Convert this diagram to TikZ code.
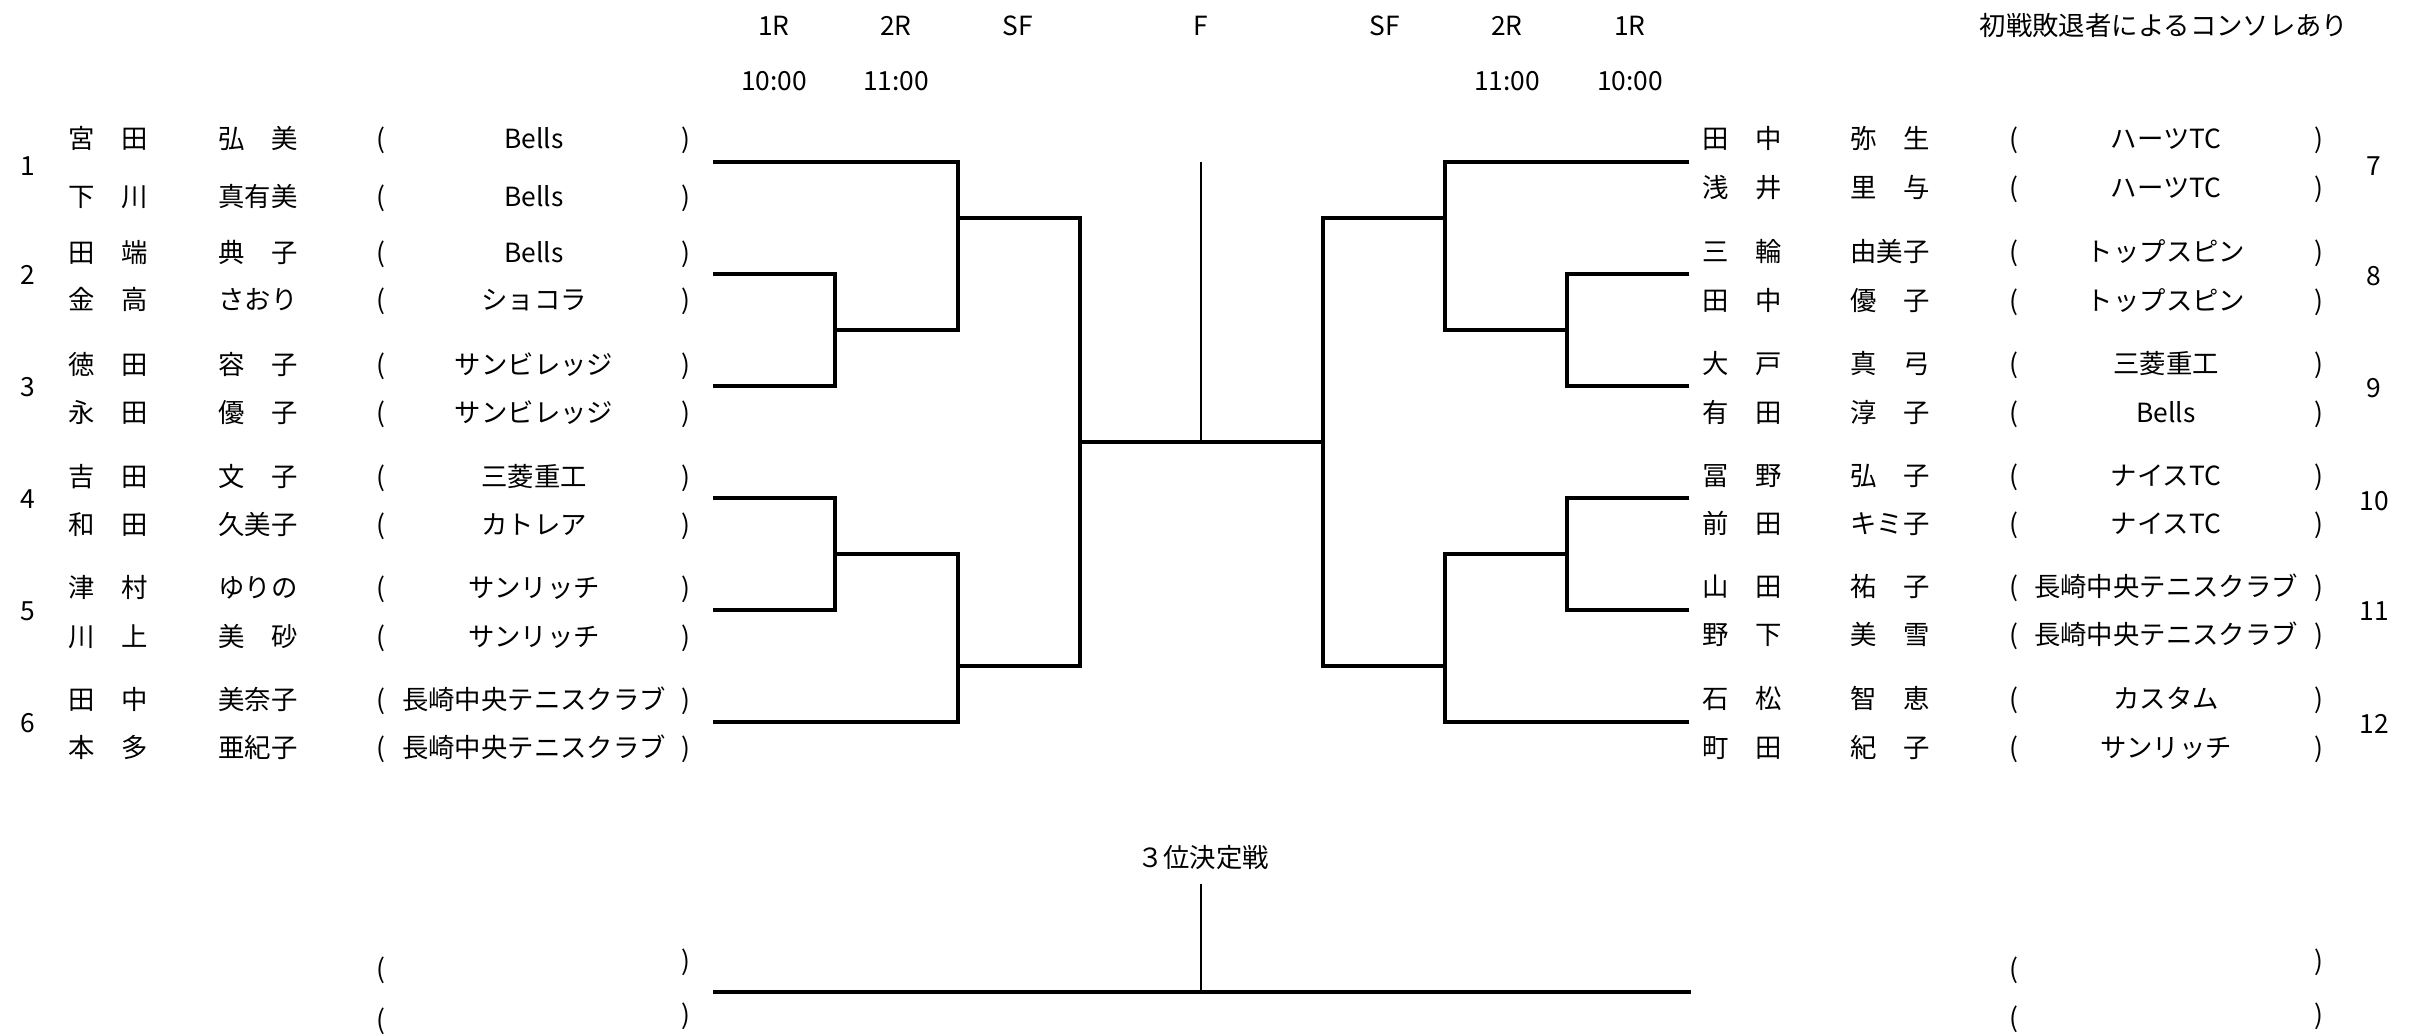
\documentclass[tikz,border=0pt]{standalone}
\usepackage{fontspec}
\setmainfont{Noto Sans CJK JP}
\usetikzlibrary{positioning}

\tikzset{
  txt/.style={inner sep=0pt, text height=0.8em, text depth=0.04em, yshift=0.8pt},
  bline/.style={line width=0.9pt},
  fline/.style={line width=0.6pt},
  tline/.style={line width=1.2pt},
}

\begin{document}
\begin{tikzpicture}[x=0.01cm, y=-0.01cm, font=\fontsize{7.5}{9}\selectfont]
        \useasboundingbox (0,0) rectangle (2411,1036);

        % round headings
        \node[txt] (hLa) at (774, 25) {1R};
        \node[txt] (hLb) at (896, 25) {2R};
        \node[txt] (hLc) at (1018, 25) {SF};
        \node[txt] (hF) at (1201, 25) {F};
        \node[txt] (hRc) at (1385, 25) {SF};
        \node[txt] (hRb) at (1507, 25) {2R};
        \node[txt] (hRa) at (1630, 25) {1R};
        \node[txt] (tLa) at (774, 80) {10:00};
        \node[txt] (tLb) at (896, 80) {11:00};
        \node[txt] (tRb) at (1507, 80) {11:00};
        \node[txt] (tRa) at (1630, 80) {10:00};
        \node[txt] (note) at (2164, 25) {初戦敗退者によるコンソレあり};

        % left half players
        \foreach \y/\sur/\giv/\club [count=\i] in {
            138/宮　田/弘　美/Bells, 196/下　川/真有美/Bells,
            252/田　端/典　子/Bells, 299/金　高/さおり/ショコラ,
            364/徳　田/容　子/サンビレッジ, 412/永　田/優　子/サンビレッジ,
            476/吉　田/文　子/三菱重工, 524/和　田/久美子/カトレア,
            587/津　村/ゆりの/サンリッチ, 636/川　上/美　砂/サンリッチ,
            699/田　中/美奈子/長崎中央テニスクラブ, 747/本　多/亜紀子/長崎中央テニスクラブ}{
            \node[txt] (sl\i) at (108, \y) {\sur};
            \node[txt] (gl\i) at (258, \y) {\giv};
            \node[txt] (ol\i) at (381, \y) {(};
            \node[txt] (cl\i) at (534, \y) {\club};
            \node[txt] (el\i) at (686, \y) {)};
        }
        \foreach \y/\n in {165/1, 274/2, 386/3, 498/4, 610/5, 722/6}
            \node[txt] (nl\n) at (28, \y) {\n};

        % right half players
        \foreach \y/\sur/\giv/\club [count=\i] in {
            138/田　中/弥　生/ハーツTC, 187/浅　井/里　与/ハーツTC,
            251/三　輪/由美子/トップスピン, 300/田　中/優　子/トップスピン,
            363/大　戸/真　弓/三菱重工, 412/有　田/淳　子/Bells,
            475/冨　野/弘　子/ナイスTC, 523/前　田/キミ子/ナイスTC,
            586/山　田/祐　子/長崎中央テニスクラブ, 634/野　下/美　雪/長崎中央テニスクラブ,
            698/石　松/智　恵/カスタム, 747/町　田/紀　子/サンリッチ}{
            \node[txt] (sr\i) at (1742, \y) {\sur};
            \node[txt] (gr\i) at (1890, \y) {\giv};
            \node[txt] (or\i) at (2014, \y) {(};
            \node[txt] (cr\i) at (2166, \y) {\club};
            \node[txt] (er\i) at (2319, \y) {)};
        }
        \foreach \y/\n in {165/7, 275/8, 387/9, 500/10, 610/11, 723/12}
            \node[txt] (nr\n) at (2374, \y) {\n};

        % draw points
        \coordinate (a1) at (713, 162);
        \coordinate (a2) at (713, 274);
        \coordinate (a3) at (713, 386);
        \coordinate (a4) at (713, 498);
        \coordinate (a5) at (713, 610);
        \coordinate (a6) at (713, 722);
        \coordinate (b7) at (1689, 162);
        \coordinate (b8) at (1689, 274);
        \coordinate (b9) at (1689, 386);
        \coordinate (b10) at (1689, 498);
        \coordinate (b11) at (1689, 610);
        \coordinate (b12) at (1689, 722);
        \coordinate (j23) at (835, 330);
        \coordinate (j45) at (835, 554);
        \coordinate (k1) at (958, 218);
        \coordinate (k2) at (958, 666);
        \coordinate (sL) at (1080, 442);
        \coordinate (j89) at (1567, 330);
        \coordinate (j1011) at (1567, 554);
        \coordinate (k3) at (1445, 218);
        \coordinate (k4) at (1445, 666);
        \coordinate (sR) at (1323, 442);
        \coordinate (fin) at (1201, 442);
        \coordinate (ftop) at (1201, 162);

        \draw [bline] (a1) -| (k1);
        \draw [bline] (a2) -| (j23) |- (a3);
        \draw [bline] (j23) -| (k1);
        \draw [bline] (k1) -| (sL);
        \draw [bline] (a4) -| (j45) |- (a5);
        \draw [bline] (j45) -| (k2);
        \draw [bline] (a6) -| (k2);
        \draw [bline] (k2) -| (sL);

        \draw [bline] (b7) -| (k3);
        \draw [bline] (b8) -| (j89) |- (b9);
        \draw [bline] (j89) -| (k3);
        \draw [bline] (k3) -| (sR);
        \draw [bline] (b10) -| (j1011) |- (b11);
        \draw [bline] (j1011) -| (k4);
        \draw [bline] (b12) -| (k4);
        \draw [bline] (k4) -| (sR);

        \draw [bline] (sL) -- (sR);
        \draw [fline] (fin) -- (ftop);

        % third place
        \node[txt] (third) at (1203, 857) {３位決定戦};
        \coordinate (t1) at (713, 992);
        \coordinate (t2) at (1691, 992);
        \coordinate (tmid) at (1201, 992);
        \coordinate (ttop) at (1201, 884);
        \draw [tline] (t1) -- (t2);
        \draw [fline] (tmid) -- (ttop);

        \node[txt] (po1) at (381, 968) {(};
        \node[txt] (pc1) at (686, 960) {)};
        \node[txt] (po2) at (381, 1019) {(};
        \node[txt] (pc2) at (686, 1014) {)};
        \node[txt] (qo1) at (2014, 968) {(};
        \node[txt] (qc1) at (2319, 960) {)};
        \node[txt] (qo2) at (2014, 1017) {(};
        \node[txt] (qc2) at (2319, 1014) {)};

    \end{tikzpicture}
\end{document}
